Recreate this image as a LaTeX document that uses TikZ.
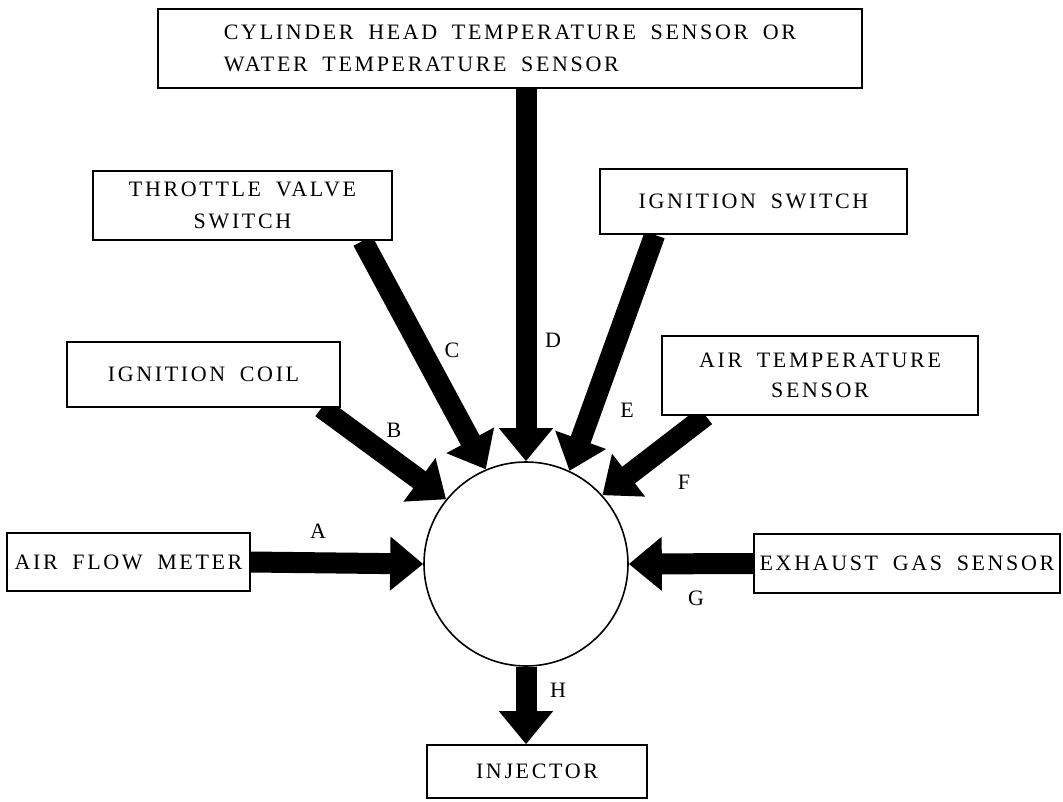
\documentclass[tikz,border=0pt]{standalone}
\usepackage{fontspec}
\newfontfamily\lblfont{Liberation Serif}[LetterSpace=12,WordSpace=1.8]
\usetikzlibrary{arrows.meta,calc,backgrounds}
\tikzset{
  txt/.style={font=\lblfont\fontsize{22}{32}\selectfont},
  box/.style={txt, draw, line width=1.6pt, fill=white, inner sep=0pt, align=center},
  ecubox/.style={draw, circle, line width=1.6pt, fill=white, inner sep=0pt, minimum size=204pt},
  bigarrow/.style={line width=21pt, -{Triangle[width=52pt,length=33pt]}},
  lbl/.style={txt, inner sep=0pt}
}
\begin{document}
\begin{tikzpicture}[x=1pt,y=-1pt]
\useasboundingbox (0,0) rectangle (1063,801);
% central unit
\node[ecubox] (ecu) at (526,564) {};
% boxes
\node[box, minimum width=704pt, minimum height=79pt, align=left] (top) at (510,48.5)
  {CYLINDER HEAD TEMPERATURE SENSOR OR\\WATER TEMPERATURE SENSOR};
\node[box, minimum width=299pt, minimum height=69pt] (thr) at (242.5,205.5) {THROTTLE VALVE\\SWITCH};
\node[box, minimum width=307pt, minimum height=65pt] (isw) at (753.5,201.5) {IGNITION SWITCH};
\node[box, minimum width=273pt, minimum height=65pt] (coil) at (203.5,374.5) {IGNITION COIL};
\node[box, minimum width=316pt, minimum height=79pt, font=\lblfont\fontsize{22}{30}\selectfont] (atemp) at (820,375.5) {AIR TEMPERATURE\\SENSOR};
\node[box, minimum width=243pt, minimum height=58pt] (afm) at (128.5,562) {AIR FLOW METER};
\node[box, minimum width=306pt, minimum height=59pt] (exh) at (907,563.5) {EXHAUST GAS SENSOR};
\node[box, minimum width=220pt, minimum height=53pt] (inj) at (537,771.5) {INJECTOR};
% connectors
\begin{scope}[on background layer]
\draw[bigarrow] (afm.east) -- (ecu.180);
\draw[bigarrow] ($(coil.south west)!0.93!(coil.south east)$) -- (ecu.141);
\draw[bigarrow] ($(thr.south west)!0.9!(thr.south east)$) -- (ecu.113);
\draw[bigarrow] (top.south -| ecu.north) -- (ecu.north);
\draw[bigarrow] ($(isw.south west)!0.18!(isw.south east)$) -- (ecu.65);
\draw[bigarrow] ($(atemp.south west)!0.14!(atemp.south east)$) -- (ecu.42);
\draw[bigarrow] (exh.west) -- (ecu.0);
\draw[bigarrow] (ecu.south) -- (ecu.south |- inj.north);
\end{scope}
% labels
\node[lbl] (lA) at (318,531) {A};
\node[lbl] (lB) at (394,430) {B};
\node[lbl] (lC) at (452,350) {C};
\node[lbl] (lD) at (553,340) {D};
\node[lbl] (lE) at (627,410) {E};
\node[lbl] (lF) at (684,482) {F};
\node[lbl] (lG) at (696,598) {G};
\node[lbl] (lH) at (558,690) {H};
\end{tikzpicture}
\end{document}
